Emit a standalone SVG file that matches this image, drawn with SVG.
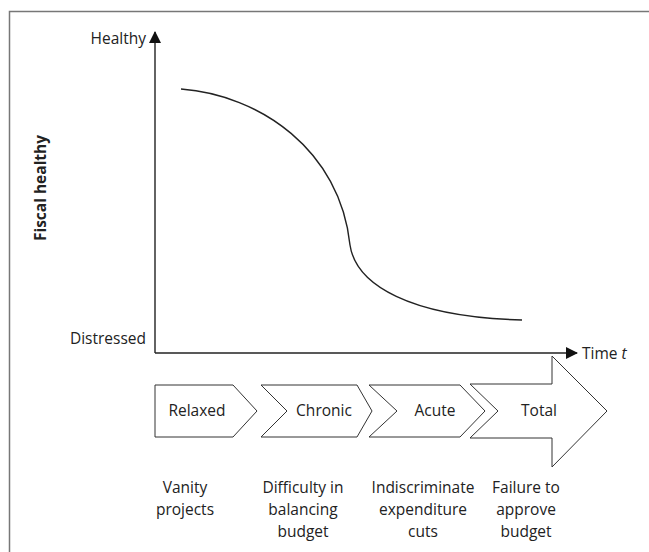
<svg xmlns="http://www.w3.org/2000/svg" width="649" height="552" viewBox="0 0 649 552">
  <style>
    .txt { font-family: "Open Sans", "Liberation Sans", sans-serif; font-size: 15.5px; fill: #222; }
    .mid { text-anchor: middle; }
    .axis { stroke: #222; stroke-width: 1.4; fill: none; }
    .stage { fill: #fff; stroke: #333; stroke-width: 1; }
  </style>
  <defs>
    <marker id="head" viewBox="0 0 12 12" refX="11" refY="6" markerWidth="12" markerHeight="12" markerUnits="userSpaceOnUse" orient="auto">
      <path d="M0,0 L12,6 L0,12 Z" fill="#111"/>
    </marker>
  </defs>

  <!-- outer frame -->
  <rect x="9.5" y="11.5" width="700" height="600" fill="none" stroke="#777" stroke-width="1.5"/>

  <!-- axes -->
  <g id="axes">
    <line class="axis" x1="155" y1="353" x2="155" y2="32" marker-end="url(#head)"/>
    <line class="axis" x1="155" y1="353" x2="577" y2="353" marker-end="url(#head)"/>
    <text class="txt" x="146" y="44" text-anchor="end">Healthy</text>
    <text class="txt" x="146" y="344" text-anchor="end">Distressed</text>
    <text class="txt" x="582" y="359">Time <tspan font-style="italic">t</tspan></text>
    <text class="txt" x="0" y="0" font-weight="bold" font-size="17px" text-anchor="middle" transform="translate(46,188) rotate(-90)">Fiscal healthy</text>
  </g>

  <!-- fiscal health curve -->
  <g id="curve">
    <path d="M181,89 C260,95 340,150 350,245 C356,285 410,317 522,320" fill="none" stroke="#222" stroke-width="1.4"/>
  </g>

  <!-- stage chevrons -->
  <g id="relaxed">
    <path class="stage" d="M155,385 L233,385 L257,411 L233,437 L155,437 Z"/>
    <text class="txt mid" x="197" y="416">Relaxed</text>
  </g>
  <g id="chronic">
    <path class="stage" d="M261,385 L357,385 L372,411 L357,437 L261,437 L287,411 Z"/>
    <text class="txt mid" x="324" y="416">Chronic</text>
  </g>
  <g id="acute">
    <path class="stage" d="M369,385 L460,385 L485,411 L460,437 L369,437 L397,411 Z"/>
    <text class="txt mid" x="435" y="416">Acute</text>
  </g>
  <g id="total">
    <path class="stage" d="M470,384 L552,384 L552,356 L607,411 L552,467 L552,438 L470,438 L498,411 Z"/>
    <text class="txt mid" x="539" y="416">Total</text>
  </g>

  <!-- stage descriptions -->
  <g id="desc-relaxed">
    <text class="txt mid" x="185" y="493">Vanity</text>
    <text class="txt mid" x="185" y="515">projects</text>
  </g>
  <g id="desc-chronic">
    <text class="txt mid" x="303" y="493">Difficulty in</text>
    <text class="txt mid" x="303" y="515">balancing</text>
    <text class="txt mid" x="303" y="537">budget</text>
  </g>
  <g id="desc-acute">
    <text class="txt mid" x="423" y="493">Indiscriminate</text>
    <text class="txt mid" x="423" y="515">expenditure</text>
    <text class="txt mid" x="423" y="537">cuts</text>
  </g>
  <g id="desc-total">
    <text class="txt mid" x="526" y="493">Failure to</text>
    <text class="txt mid" x="526" y="515">approve</text>
    <text class="txt mid" x="526" y="537">budget</text>
  </g>
</svg>
